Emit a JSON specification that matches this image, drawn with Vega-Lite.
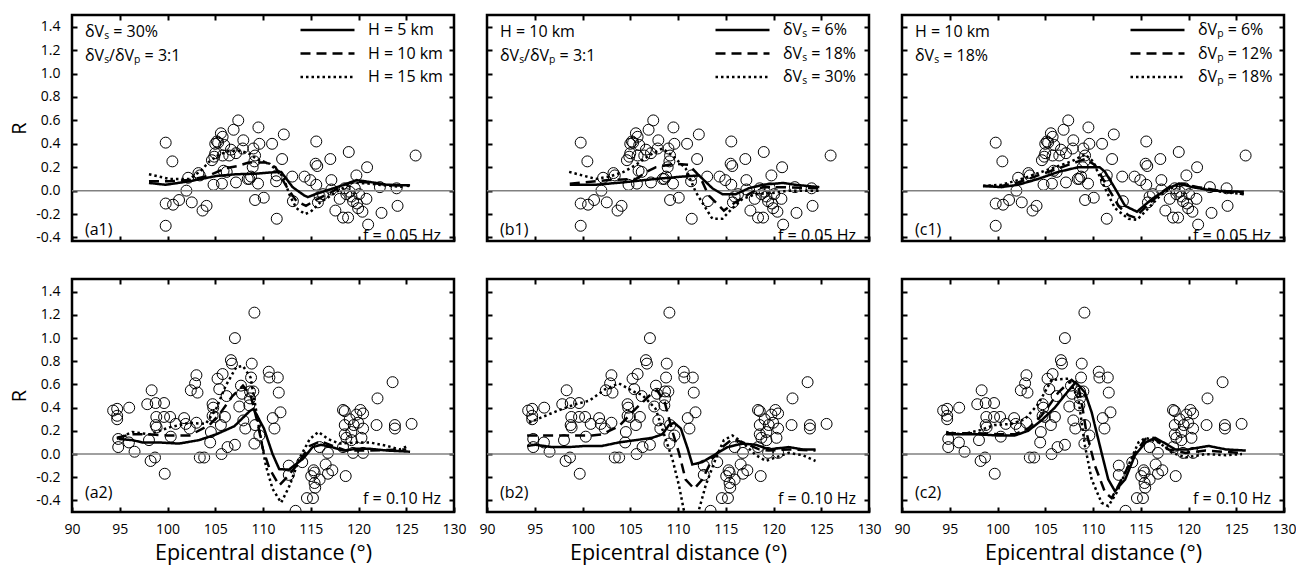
{
"$schema": "https://vega.github.io/schema/vega-lite/v6.json",
"padding": {"left": 8, "top": 12, "right": 0, "bottom": 0},
"background": "white",
"datasets": {
"pts1": [
{"d":99.81,"r":0.41},{"d":100.51,"r":0.25},{"d":99.81,"r":-0.30},{"d":99.81,"r":-0.11},{"d":100.58,"r":-0.12},{"d":101.21,"r":-0.08},{"d":101.98,"r":0.00},{"d":102.16,"r":0.11},{"d":102.54,"r":-0.10},{"d":103.24,"r":0.15},{"d":103.38,"r":0.13},{"d":103.67,"r":-0.17},{"d":104.09,"r":-0.13},{"d":104.82,"r":0.05},{"d":104.65,"r":0.26},{"d":105.00,"r":0.32},{"d":105.00,"r":0.40},{"d":105.17,"r":0.42},{"d":105.59,"r":0.49},{"d":105.77,"r":0.46},{"d":105.94,"r":0.39},{"d":105.77,"r":0.30},{"d":105.70,"r":0.06},{"d":105.87,"r":0.17},{"d":106.47,"r":0.30},{"d":106.64,"r":0.35},{"d":106.92,"r":0.52},{"d":107.41,"r":0.60},{"d":107.17,"r":0.32},{"d":107.87,"r":0.36},{"d":107.94,"r":0.43},{"d":108.57,"r":0.10},{"d":108.40,"r":0.10},{"d":108.92,"r":0.20},{"d":109.10,"r":0.25},{"d":109.17,"r":0.30},{"d":109.00,"r":0.36},{"d":109.48,"r":0.06},{"d":109.52,"r":0.54},{"d":109.62,"r":0.40},{"d":109.17,"r":-0.08},{"d":110.08,"r":-0.06},{"d":110.95,"r":0.40},{"d":112.18,"r":0.48},{"d":112.00,"r":0.27},{"d":111.44,"r":0.13},{"d":111.37,"r":0.08},{"d":111.44,"r":-0.24},{"d":113.06,"r":0.12},{"d":113.13,"r":-0.09},{"d":114.35,"r":0.12},{"d":114.95,"r":0.09},{"d":115.58,"r":0.42},{"d":115.51,"r":0.23},{"d":115.68,"r":0.21},{"d":115.58,"r":0.05},{"d":115.75,"r":-0.10},{"d":115.93,"r":-0.05},{"d":117.05,"r":0.27},{"d":117.16,"r":0.09},{"d":117.16,"r":0.01},{"d":117.58,"r":-0.17},{"d":118.38,"r":-0.23},{"d":118.91,"r":-0.23},{"d":118.98,"r":0.33},{"d":118.73,"r":-0.03},{"d":119.08,"r":-0.01},{"d":119.26,"r":-0.05},{"d":119.43,"r":-0.09},{"d":119.78,"r":0.13},{"d":119.85,"r":-0.11},{"d":119.96,"r":-0.15},{"d":120.41,"r":-0.18},{"d":120.83,"r":-0.07},{"d":120.90,"r":0.20},{"d":121.01,"r":-0.29},{"d":118.91,"r":-0.48},{"d":122.24,"r":0.03},{"d":122.41,"r":-0.19},{"d":123.99,"r":0.02},{"d":124.09,"r":-0.13},{"d":125.98,"r":0.30},{"d":107.17,"r":0.07},{"d":108.75,"r":0.12},{"d":118.03,"r":-0.07},{"d":118.56,"r":0.02},{"d":119.61,"r":0.02},{"d":120.06,"r":-0.03},{"d":116.28,"r":-0.03},{"d":105.3,"r":0.41},{"d":104.9,"r":0.29},{"d":106.2,"r":0.16}
],
"pts2": [
{"d":94.31,"r":0.375},{"d":94.73,"r":0.39},{"d":94.73,"r":0.33},{"d":94.73,"r":0.30},{"d":94.84,"r":0.13},{"d":94.84,"r":0.06},{"d":95.99,"r":0.40},{"d":95.96,"r":0.10},{"d":96.55,"r":0.02},{"d":97.88,"r":0.43},{"d":98.34,"r":0.55},{"d":98.23,"r":-0.06},{"d":98.69,"r":-0.03},{"d":98.76,"r":0.44},{"d":98.83,"r":0.32},{"d":98.76,"r":0.25},{"d":98.86,"r":0.23},{"d":98.06,"r":0.12},{"d":99.64,"r":0.44},{"d":99.71,"r":-0.17},{"d":99.64,"r":0.32},{"d":100.27,"r":0.32},{"d":100.34,"r":0.15},{"d":100.86,"r":0.26},{"d":101.74,"r":0.31},{"d":101.91,"r":0.26},{"d":102.33,"r":0.22},{"d":102.44,"r":0.55},{"d":102.89,"r":0.61},{"d":103.03,"r":0.68},{"d":103.14,"r":0.53},{"d":103.03,"r":0.27},{"d":103.38,"r":-0.03},{"d":103.84,"r":-0.03},{"d":104.47,"r":0.10},{"d":104.54,"r":0.19},{"d":104.72,"r":0.43},{"d":104.79,"r":0.40},{"d":104.72,"r":0.33},{"d":104.96,"r":0.32},{"d":105.24,"r":0.65},{"d":105.42,"r":0.56},{"d":105.77,"r":0.69},{"d":105.59,"r":0.25},{"d":105.66,"r":0.00},{"d":106.01,"r":0.32},{"d":106.19,"r":0.50},{"d":106.29,"r":0.06},{"d":106.64,"r":0.81},{"d":106.75,"r":0.78},{"d":107.06,"r":1.00},{"d":107.06,"r":0.08},{"d":107.52,"r":0.41},{"d":107.69,"r":0.59},{"d":107.80,"r":0.52},{"d":107.94,"r":0.29},{"d":108.15,"r":0.22},{"d":108.82,"r":0.78},{"d":108.75,"r":0.66},{"d":108.64,"r":0.54},{"d":108.64,"r":0.48},{"d":108.57,"r":0.42},{"d":108.99,"r":0.54},{"d":109.10,"r":1.22},{"d":109.10,"r":0.09},{"d":109.17,"r":0.25},{"d":109.62,"r":0.16},{"d":110.60,"r":0.71},{"d":110.67,"r":0.66},{"d":111.02,"r":0.31},{"d":111.20,"r":0.22},{"d":111.55,"r":0.66},{"d":111.65,"r":0.53},{"d":111.83,"r":0.36},{"d":112.70,"r":-0.10},{"d":112.70,"r":-0.18},{"d":113.41,"r":-0.49},{"d":114.11,"r":-0.07},{"d":114.60,"r":-0.38},{"d":115.23,"r":-0.38},{"d":115.05,"r":-0.19},{"d":115.30,"r":-0.14},{"d":115.40,"r":-0.16},{"d":115.40,"r":-0.25},{"d":115.47,"r":-0.29},{"d":115.93,"r":-0.22},{"d":115.93,"r":0.06},{"d":116.56,"r":-0.09},{"d":116.80,"r":-0.17},{"d":117.26,"r":-0.14},{"d":116.80,"r":0.01},{"d":118.38,"r":0.38},{"d":118.56,"r":0.37},{"d":118.56,"r":0.25},{"d":118.56,"r":0.17},{"d":118.66,"r":-0.19},{"d":119.08,"r":0.30},{"d":119.26,"r":0.19},{"d":119.43,"r":0.01},{"d":119.50,"r":0.25},{"d":119.78,"r":0.34},{"d":119.96,"r":0.27},{"d":120.20,"r":0.38},{"d":120.48,"r":0.35},{"d":120.48,"r":0.22},{"d":120.31,"r":0.14},{"d":120.48,"r":0.01},{"d":121.99,"r":0.48},{"d":121.89,"r":0.25},{"d":123.57,"r":0.62},{"d":123.81,"r":0.25},{"d":123.81,"r":0.22},{"d":125.56,"r":0.26},{"d":118.73,"r":0.14},{"d":118.38,"r":0.06},{"d":119.26,"r":0.12}
],
"curves": [
{"p":"a","s":"H = 5 km","d":98.06,"r":0.066},{"p":"a","s":"H = 5 km","d":99.8,"r":0.05},{"p":"a","s":"H = 5 km","d":102.3,"r":0.08},{"p":"a","s":"H = 5 km","d":105.1,"r":0.125},{"p":"a","s":"H = 5 km","d":107.2,"r":0.14},{"p":"a","s":"H = 5 km","d":109.3,"r":0.145},{"p":"a","s":"H = 5 km","d":110.7,"r":0.155},{"p":"a","s":"H = 5 km","d":111.9,"r":0.16},{"p":"a","s":"H = 5 km","d":113.1,"r":0.03},{"p":"a","s":"H = 5 km","d":114.3,"r":-0.04},{"p":"a","s":"H = 5 km","d":114.7,"r":-0.055},{"p":"a","s":"H = 5 km","d":115.5,"r":-0.03},{"p":"a","s":"H = 5 km","d":117,"r":0.01},{"p":"a","s":"H = 5 km","d":118.5,"r":0.05},{"p":"a","s":"H = 5 km","d":119.8,"r":0.09},{"p":"a","s":"H = 5 km","d":121.2,"r":0.074},{"p":"a","s":"H = 5 km","d":123,"r":0.05},{"p":"a","s":"H = 5 km","d":125.4,"r":0.045},
{"p":"a","s":"H = 10 km","d":98.06,"r":0.08},{"p":"a","s":"H = 10 km","d":100,"r":0.08},{"p":"a","s":"H = 10 km","d":102.3,"r":0.09},{"p":"a","s":"H = 10 km","d":104.4,"r":0.13},{"p":"a","s":"H = 10 km","d":106,"r":0.19},{"p":"a","s":"H = 10 km","d":107.3,"r":0.21},{"p":"a","s":"H = 10 km","d":108.5,"r":0.24},{"p":"a","s":"H = 10 km","d":110.3,"r":0.24},{"p":"a","s":"H = 10 km","d":111.3,"r":0.2},{"p":"a","s":"H = 10 km","d":112.5,"r":0.03},{"p":"a","s":"H = 10 km","d":113.5,"r":-0.09},{"p":"a","s":"H = 10 km","d":114.5,"r":-0.13},{"p":"a","s":"H = 10 km","d":115.5,"r":-0.08},{"p":"a","s":"H = 10 km","d":117,"r":-0.02},{"p":"a","s":"H = 10 km","d":118.5,"r":0.05},{"p":"a","s":"H = 10 km","d":119.5,"r":0.08},{"p":"a","s":"H = 10 km","d":121,"r":0.07},{"p":"a","s":"H = 10 km","d":123,"r":0.05},{"p":"a","s":"H = 10 km","d":125.3,"r":0.04},
{"p":"a","s":"H = 15 km","d":98.06,"r":0.14},{"p":"a","s":"H = 15 km","d":100.2,"r":0.10},{"p":"a","s":"H = 15 km","d":102.3,"r":0.10},{"p":"a","s":"H = 15 km","d":103.5,"r":0.17},{"p":"a","s":"H = 15 km","d":104.4,"r":0.25},{"p":"a","s":"H = 15 km","d":105.5,"r":0.31},{"p":"a","s":"H = 15 km","d":106.5,"r":0.34},{"p":"a","s":"H = 15 km","d":107.7,"r":0.34},{"p":"a","s":"H = 15 km","d":108.7,"r":0.31},{"p":"a","s":"H = 15 km","d":109.3,"r":0.27},{"p":"a","s":"H = 15 km","d":110.7,"r":0.23},{"p":"a","s":"H = 15 km","d":112.1,"r":0.12},{"p":"a","s":"H = 15 km","d":112.8,"r":-0.04},{"p":"a","s":"H = 15 km","d":113.5,"r":-0.15},{"p":"a","s":"H = 15 km","d":114.4,"r":-0.20},{"p":"a","s":"H = 15 km","d":115,"r":-0.18},{"p":"a","s":"H = 15 km","d":116,"r":-0.10},{"p":"a","s":"H = 15 km","d":117.7,"r":-0.01},{"p":"a","s":"H = 15 km","d":119.4,"r":0.07},{"p":"a","s":"H = 15 km","d":121,"r":0.06},{"p":"a","s":"H = 15 km","d":124.7,"r":0.03},
{"p":"b","s":"δVₛ = 6%","d":98.67,"r":0.05},{"p":"b","s":"δVₛ = 6%","d":101.36,"r":0.05},{"p":"b","s":"δVₛ = 6%","d":104.16,"r":0.07},{"p":"b","s":"δVₛ = 6%","d":107.66,"r":0.10},{"p":"b","s":"δVₛ = 6%","d":110.45,"r":0.12},{"p":"b","s":"δVₛ = 6%","d":112.2,"r":0.13},{"p":"b","s":"δVₛ = 6%","d":113.6,"r":0.02},{"p":"b","s":"δVₛ = 6%","d":114.65,"r":-0.03},{"p":"b","s":"δVₛ = 6%","d":116.05,"r":-0.03},{"p":"b","s":"δVₛ = 6%","d":117.4,"r":0.02},{"p":"b","s":"δVₛ = 6%","d":118.85,"r":0.05},{"p":"b","s":"δVₛ = 6%","d":121,"r":0.066},{"p":"b","s":"δVₛ = 6%","d":122.3,"r":0.05},{"p":"b","s":"δVₛ = 6%","d":124.8,"r":0.03},
{"p":"b","s":"δVₛ = 18%","d":98.67,"r":0.06},{"p":"b","s":"δVₛ = 18%","d":102.8,"r":0.09},{"p":"b","s":"δVₛ = 18%","d":105.6,"r":0.10},{"p":"b","s":"δVₛ = 18%","d":106.7,"r":0.16},{"p":"b","s":"δVₛ = 18%","d":107.7,"r":0.20},{"p":"b","s":"δVₛ = 18%","d":109.75,"r":0.23},{"p":"b","s":"δVₛ = 18%","d":111.15,"r":0.22},{"p":"b","s":"δVₛ = 18%","d":112.3,"r":0.12},{"p":"b","s":"δVₛ = 18%","d":113.2,"r":-0.04},{"p":"b","s":"δVₛ = 18%","d":113.95,"r":-0.10},{"p":"b","s":"δVₛ = 18%","d":114.8,"r":-0.17},{"p":"b","s":"δVₛ = 18%","d":116,"r":-0.10},{"p":"b","s":"δVₛ = 18%","d":117.4,"r":-0.03},{"p":"b","s":"δVₛ = 18%","d":118.85,"r":0.03},{"p":"b","s":"δVₛ = 18%","d":121,"r":0.03},{"p":"b","s":"δVₛ = 18%","d":124.8,"r":0.02},
{"p":"b","s":"δVₛ = 30%","d":98.6,"r":0.16},{"p":"b","s":"δVₛ = 30%","d":101.4,"r":0.10},{"p":"b","s":"δVₛ = 30%","d":102.8,"r":0.12},{"p":"b","s":"δVₛ = 30%","d":104.3,"r":0.16},{"p":"b","s":"δVₛ = 30%","d":105.6,"r":0.22},{"p":"b","s":"δVₛ = 30%","d":106.95,"r":0.30},{"p":"b","s":"δVₛ = 30%","d":108.36,"r":0.36},{"p":"b","s":"δVₛ = 30%","d":109.4,"r":0.30},{"p":"b","s":"δVₛ = 30%","d":110.8,"r":0.19},{"p":"b","s":"δVₛ = 30%","d":111.85,"r":-0.01},{"p":"b","s":"δVₛ = 30%","d":112.9,"r":-0.15},{"p":"b","s":"δVₛ = 30%","d":113.6,"r":-0.24},{"p":"b","s":"δVₛ = 30%","d":114.65,"r":-0.24},{"p":"b","s":"δVₛ = 30%","d":115.7,"r":-0.15},{"p":"b","s":"δVₛ = 30%","d":116.75,"r":-0.07},{"p":"b","s":"δVₛ = 30%","d":118.15,"r":-0.03},{"p":"b","s":"δVₛ = 30%","d":119.9,"r":-0.02},{"p":"b","s":"δVₛ = 30%","d":121.6,"r":0.0},{"p":"b","s":"δVₛ = 30%","d":124.8,"r":0.0},
{"p":"c","s":"δVₚ = 6%","d":98.48,"r":0.04},{"p":"c","s":"δVₚ = 6%","d":100.4,"r":0.03},{"p":"c","s":"δVₚ = 6%","d":102.15,"r":0.05},{"p":"c","s":"δVₚ = 6%","d":104.26,"r":0.10},{"p":"c","s":"δVₚ = 6%","d":106.36,"r":0.16},{"p":"c","s":"δVₚ = 6%","d":108.46,"r":0.20},{"p":"c","s":"δVₚ = 6%","d":110.7,"r":0.20},{"p":"c","s":"δVₚ = 6%","d":111.26,"r":0.16},{"p":"c","s":"δVₚ = 6%","d":112.3,"r":0.02},{"p":"c","s":"δVₚ = 6%","d":113.36,"r":-0.13},{"p":"c","s":"δVₚ = 6%","d":114.6,"r":-0.18},{"p":"c","s":"δVₚ = 6%","d":116.2,"r":-0.07},{"p":"c","s":"δVₚ = 6%","d":117.9,"r":0.02},{"p":"c","s":"δVₚ = 6%","d":119,"r":0.06},{"p":"c","s":"δVₚ = 6%","d":120.4,"r":0.03},{"p":"c","s":"δVₚ = 6%","d":122.5,"r":0.0},{"p":"c","s":"δVₚ = 6%","d":125.8,"r":-0.01},
{"p":"c","s":"δVₚ = 12%","d":98.48,"r":0.04},{"p":"c","s":"δVₚ = 12%","d":100.4,"r":0.04},{"p":"c","s":"δVₚ = 12%","d":102.15,"r":0.07},{"p":"c","s":"δVₚ = 12%","d":104.26,"r":0.13},{"p":"c","s":"δVₚ = 12%","d":106.36,"r":0.19},{"p":"c","s":"δVₚ = 12%","d":108.46,"r":0.25},{"p":"c","s":"δVₚ = 12%","d":109.16,"r":0.27},{"p":"c","s":"δVₚ = 12%","d":110.2,"r":0.22},{"p":"c","s":"δVₚ = 12%","d":111.6,"r":0.02},{"p":"c","s":"δVₚ = 12%","d":112.66,"r":-0.13},{"p":"c","s":"δVₚ = 12%","d":113.7,"r":-0.21},{"p":"c","s":"δVₚ = 12%","d":114.4,"r":-0.23},{"p":"c","s":"δVₚ = 12%","d":115.5,"r":-0.14},{"p":"c","s":"δVₚ = 12%","d":116.9,"r":-0.03},{"p":"c","s":"δVₚ = 12%","d":118.3,"r":0.05},{"p":"c","s":"δVₚ = 12%","d":119.3,"r":0.06},{"p":"c","s":"δVₚ = 12%","d":121,"r":0.03},{"p":"c","s":"δVₚ = 12%","d":123.2,"r":0.0},{"p":"c","s":"δVₚ = 12%","d":125.8,"r":-0.03},
{"p":"c","s":"δVₚ = 18%","d":98.48,"r":0.04},{"p":"c","s":"δVₚ = 18%","d":100.4,"r":0.05},{"p":"c","s":"δVₚ = 18%","d":102.15,"r":0.09},{"p":"c","s":"δVₚ = 18%","d":104.26,"r":0.15},{"p":"c","s":"δVₚ = 18%","d":105.66,"r":0.19},{"p":"c","s":"δVₚ = 18%","d":107.76,"r":0.25},{"p":"c","s":"δVₚ = 18%","d":109.16,"r":0.31},{"p":"c","s":"δVₚ = 18%","d":110.0,"r":0.25},{"p":"c","s":"δVₚ = 18%","d":111.26,"r":0.02},{"p":"c","s":"δVₚ = 18%","d":112.3,"r":-0.15},{"p":"c","s":"δVₚ = 18%","d":113.7,"r":-0.24},{"p":"c","s":"δVₚ = 18%","d":114.6,"r":-0.25},{"p":"c","s":"δVₚ = 18%","d":115.8,"r":-0.15},{"p":"c","s":"δVₚ = 18%","d":117.2,"r":-0.03},{"p":"c","s":"δVₚ = 18%","d":118.6,"r":0.04},{"p":"c","s":"δVₚ = 18%","d":119.7,"r":0.05},{"p":"c","s":"δVₚ = 18%","d":121.4,"r":0.02},{"p":"c","s":"δVₚ = 18%","d":123.5,"r":-0.01},{"p":"c","s":"δVₚ = 18%","d":125.8,"r":-0.03}
],
"curves2": [
{"p":"a","s":"H = 5 km","d":94.9,"r":0.13},{"p":"a","s":"H = 5 km","d":96.3,"r":0.12},{"p":"a","s":"H = 5 km","d":97.4,"r":0.10},{"p":"a","s":"H = 5 km","d":99.1,"r":0.10},{"p":"a","s":"H = 5 km","d":101.2,"r":0.09},{"p":"a","s":"H = 5 km","d":103.3,"r":0.12},{"p":"a","s":"H = 5 km","d":105.1,"r":0.17},{"p":"a","s":"H = 5 km","d":107.0,"r":0.24},{"p":"a","s":"H = 5 km","d":108.6,"r":0.37},{"p":"a","s":"H = 5 km","d":109.0,"r":0.39},{"p":"a","s":"H = 5 km","d":110.1,"r":0.22},{"p":"a","s":"H = 5 km","d":111.0,"r":0.0},{"p":"a","s":"H = 5 km","d":111.7,"r":-0.13},{"p":"a","s":"H = 5 km","d":112.7,"r":-0.135},{"p":"a","s":"H = 5 km","d":114.2,"r":-0.04},{"p":"a","s":"H = 5 km","d":115.2,"r":0.06},{"p":"a","s":"H = 5 km","d":116.1,"r":0.08},{"p":"a","s":"H = 5 km","d":117.2,"r":0.06},{"p":"a","s":"H = 5 km","d":118.4,"r":0.03},{"p":"a","s":"H = 5 km","d":119.8,"r":0.045},{"p":"a","s":"H = 5 km","d":121.2,"r":0.045},{"p":"a","s":"H = 5 km","d":123,"r":0.03},{"p":"a","s":"H = 5 km","d":125.4,"r":0.02},
{"p":"a","s":"H = 10 km","d":94.7,"r":0.14},{"p":"a","s":"H = 10 km","d":96.3,"r":0.17},{"p":"a","s":"H = 10 km","d":98,"r":0.17},{"p":"a","s":"H = 10 km","d":100,"r":0.16},{"p":"a","s":"H = 10 km","d":102.3,"r":0.16},{"p":"a","s":"H = 10 km","d":104.4,"r":0.25},{"p":"a","s":"H = 10 km","d":105.5,"r":0.35},{"p":"a","s":"H = 10 km","d":106.8,"r":0.50},{"p":"a","s":"H = 10 km","d":107.9,"r":0.59},{"p":"a","s":"H = 10 km","d":108.7,"r":0.51},{"p":"a","s":"H = 10 km","d":109.4,"r":0.28},{"p":"a","s":"H = 10 km","d":110,"r":0.04},{"p":"a","s":"H = 10 km","d":110.7,"r":-0.13},{"p":"a","s":"H = 10 km","d":111.7,"r":-0.27},{"p":"a","s":"H = 10 km","d":112.5,"r":-0.2},{"p":"a","s":"H = 10 km","d":113.5,"r":-0.10},{"p":"a","s":"H = 10 km","d":114.9,"r":0.07},{"p":"a","s":"H = 10 km","d":116,"r":0.11},{"p":"a","s":"H = 10 km","d":117.3,"r":0.07},{"p":"a","s":"H = 10 km","d":118.7,"r":0.03},{"p":"a","s":"H = 10 km","d":121.2,"r":0.03},{"p":"a","s":"H = 10 km","d":125,"r":0.04},
{"p":"a","s":"H = 15 km","d":94.7,"r":0.13},{"p":"a","s":"H = 15 km","d":96.3,"r":0.19},{"p":"a","s":"H = 15 km","d":98.1,"r":0.17},{"p":"a","s":"H = 15 km","d":100.2,"r":0.23},{"p":"a","s":"H = 15 km","d":102.3,"r":0.27},{"p":"a","s":"H = 15 km","d":104,"r":0.26},{"p":"a","s":"H = 15 km","d":105.1,"r":0.39},{"p":"a","s":"H = 15 km","d":106.1,"r":0.59},{"p":"a","s":"H = 15 km","d":107.2,"r":0.75},{"p":"a","s":"H = 15 km","d":107.9,"r":0.76},{"p":"a","s":"H = 15 km","d":108.7,"r":0.66},{"p":"a","s":"H = 15 km","d":109.6,"r":0.22},{"p":"a","s":"H = 15 km","d":110.3,"r":-0.10},{"p":"a","s":"H = 15 km","d":111,"r":-0.30},{"p":"a","s":"H = 15 km","d":111.9,"r":-0.42},{"p":"a","s":"H = 15 km","d":112.8,"r":-0.27},{"p":"a","s":"H = 15 km","d":113.8,"r":-0.04},{"p":"a","s":"H = 15 km","d":114.9,"r":0.13},{"p":"a","s":"H = 15 km","d":115.8,"r":0.19},{"p":"a","s":"H = 15 km","d":116.8,"r":0.13},{"p":"a","s":"H = 15 km","d":118,"r":0.09},{"p":"a","s":"H = 15 km","d":119.8,"r":0.10},{"p":"a","s":"H = 15 km","d":121.2,"r":0.10},{"p":"a","s":"H = 15 km","d":123,"r":0.07},{"p":"a","s":"H = 15 km","d":124.3,"r":0.04},{"p":"a","s":"H = 15 km","d":125.2,"r":0.07},
{"p":"b","s":"δVₛ = 6%","d":94.2,"r":0.07},{"p":"b","s":"δVₛ = 6%","d":95.07,"r":0.08},{"p":"b","s":"δVₛ = 6%","d":96.8,"r":0.06},{"p":"b","s":"δVₛ = 6%","d":98.57,"r":0.06},{"p":"b","s":"δVₛ = 6%","d":100.3,"r":0.07},{"p":"b","s":"δVₛ = 6%","d":102.06,"r":0.07},{"p":"b","s":"δVₛ = 6%","d":103.8,"r":0.10},{"p":"b","s":"δVₛ = 6%","d":105.56,"r":0.12},{"p":"b","s":"δVₛ = 6%","d":107.3,"r":0.14},{"p":"b","s":"δVₛ = 6%","d":108.36,"r":0.17},{"p":"b","s":"δVₛ = 6%","d":109.06,"r":0.25},{"p":"b","s":"δVₛ = 6%","d":109.6,"r":0.27},{"p":"b","s":"δVₛ = 6%","d":110.3,"r":0.22},{"p":"b","s":"δVₛ = 6%","d":111.0,"r":0.05},{"p":"b","s":"δVₛ = 6%","d":111.5,"r":-0.09},{"p":"b","s":"δVₛ = 6%","d":112.55,"r":-0.07},{"p":"b","s":"δVₛ = 6%","d":113.95,"r":0.0},{"p":"b","s":"δVₛ = 6%","d":115.2,"r":0.06},{"p":"b","s":"δVₛ = 6%","d":116.75,"r":0.09},{"p":"b","s":"δVₛ = 6%","d":118.15,"r":0.08},{"p":"b","s":"δVₛ = 6%","d":119.55,"r":0.04},{"p":"b","s":"δVₛ = 6%","d":121.6,"r":0.06},{"p":"b","s":"δVₛ = 6%","d":123.05,"r":0.04},{"p":"b","s":"δVₛ = 6%","d":124.4,"r":0.04},
{"p":"b","s":"δVₛ = 18%","d":94.2,"r":0.16},{"p":"b","s":"δVₛ = 18%","d":96.8,"r":0.16},{"p":"b","s":"δVₛ = 18%","d":99.27,"r":0.16},{"p":"b","s":"δVₛ = 18%","d":101.0,"r":0.16},{"p":"b","s":"δVₛ = 18%","d":102.06,"r":0.17},{"p":"b","s":"δVₛ = 18%","d":103.8,"r":0.24},{"p":"b","s":"δVₛ = 18%","d":105.56,"r":0.39},{"p":"b","s":"δVₛ = 18%","d":106.96,"r":0.50},{"p":"b","s":"δVₛ = 18%","d":107.8,"r":0.55},{"p":"b","s":"δVₛ = 18%","d":108.6,"r":0.45},{"p":"b","s":"δVₛ = 18%","d":109.4,"r":0.2},{"p":"b","s":"δVₛ = 18%","d":110.1,"r":0.01},{"p":"b","s":"δVₛ = 18%","d":110.8,"r":-0.22},{"p":"b","s":"δVₛ = 18%","d":111.7,"r":-0.30},{"p":"b","s":"δVₛ = 18%","d":112.55,"r":-0.22},{"p":"b","s":"δVₛ = 18%","d":113.6,"r":-0.04},{"p":"b","s":"δVₛ = 18%","d":114.65,"r":0.06},{"p":"b","s":"δVₛ = 18%","d":115.7,"r":0.13},{"p":"b","s":"δVₛ = 18%","d":117.1,"r":0.09},{"p":"b","s":"δVₛ = 18%","d":118.5,"r":0.04},{"p":"b","s":"δVₛ = 18%","d":119.5,"r":0.03},{"p":"b","s":"δVₛ = 18%","d":121.6,"r":0.04},{"p":"b","s":"δVₛ = 18%","d":124.4,"r":0.03},
{"p":"b","s":"δVₛ = 30%","d":94.4,"r":0.27},{"p":"b","s":"δVₛ = 30%","d":95.8,"r":0.32},{"p":"b","s":"δVₛ = 30%","d":97.9,"r":0.39},{"p":"b","s":"δVₛ = 30%","d":99.27,"r":0.43},{"p":"b","s":"δVₛ = 30%","d":100.7,"r":0.46},{"p":"b","s":"δVₛ = 30%","d":102.4,"r":0.56},{"p":"b","s":"δVₛ = 30%","d":103.8,"r":0.61},{"p":"b","s":"δVₛ = 30%","d":105.56,"r":0.53},{"p":"b","s":"δVₛ = 30%","d":106.26,"r":0.51},{"p":"b","s":"δVₛ = 30%","d":107.66,"r":0.39},{"p":"b","s":"δVₛ = 30%","d":108.7,"r":0.13},{"p":"b","s":"δVₛ = 30%","d":109.4,"r":-0.04},{"p":"b","s":"δVₛ = 30%","d":110.1,"r":-0.27},{"p":"b","s":"δVₛ = 30%","d":110.6,"r":-0.48},{"p":"b","s":"δVₛ = 30%","d":111.0,"r":-0.6},{"p":"b","s":"δVₛ = 30%","d":111.8,"r":-0.6},{"p":"b","s":"δVₛ = 30%","d":112.2,"r":-0.48},{"p":"b","s":"δVₛ = 30%","d":112.9,"r":-0.27},{"p":"b","s":"δVₛ = 30%","d":113.95,"r":-0.04},{"p":"b","s":"δVₛ = 30%","d":114.8,"r":0.12},{"p":"b","s":"δVₛ = 30%","d":115.7,"r":0.16},{"p":"b","s":"δVₛ = 30%","d":116.75,"r":0.10},{"p":"b","s":"δVₛ = 30%","d":118.15,"r":-0.01},{"p":"b","s":"δVₛ = 30%","d":119.2,"r":-0.06},{"p":"b","s":"δVₛ = 30%","d":120.2,"r":-0.03},{"p":"b","s":"δVₛ = 30%","d":121.6,"r":0.01},{"p":"b","s":"δVₛ = 30%","d":123.05,"r":-0.01},{"p":"b","s":"δVₛ = 30%","d":124.4,"r":-0.06},
{"p":"c","s":"δVₚ = 6%","d":94.62,"r":0.17},{"p":"c","s":"δVₚ = 6%","d":96.2,"r":0.17},{"p":"c","s":"δVₚ = 6%","d":97.95,"r":0.17},{"p":"c","s":"δVₚ = 6%","d":100.05,"r":0.16},{"p":"c","s":"δVₚ = 6%","d":101.8,"r":0.16},{"p":"c","s":"δVₚ = 6%","d":103.2,"r":0.20},{"p":"c","s":"δVₚ = 6%","d":104.6,"r":0.29},{"p":"c","s":"δVₚ = 6%","d":106.0,"r":0.40},{"p":"c","s":"δVₚ = 6%","d":107.06,"r":0.51},{"p":"c","s":"δVₚ = 6%","d":108.2,"r":0.62},{"p":"c","s":"δVₚ = 6%","d":109.16,"r":0.53},{"p":"c","s":"δVₚ = 6%","d":109.86,"r":0.36},{"p":"c","s":"δVₚ = 6%","d":110.9,"r":0.01},{"p":"c","s":"δVₚ = 6%","d":111.6,"r":-0.22},{"p":"c","s":"δVₚ = 6%","d":112.3,"r":-0.32},{"p":"c","s":"δVₚ = 6%","d":113.36,"r":-0.22},{"p":"c","s":"δVₚ = 6%","d":114.4,"r":-0.01},{"p":"c","s":"δVₚ = 6%","d":115.5,"r":0.10},{"p":"c","s":"δVₚ = 6%","d":116.5,"r":0.14},{"p":"c","s":"δVₚ = 6%","d":117.6,"r":0.09},{"p":"c","s":"δVₚ = 6%","d":118.6,"r":0.04},{"p":"c","s":"δVₚ = 6%","d":120.0,"r":0.04},{"p":"c","s":"δVₚ = 6%","d":122.1,"r":0.07},{"p":"c","s":"δVₚ = 6%","d":123.9,"r":0.04},{"p":"c","s":"δVₚ = 6%","d":126.0,"r":0.03},
{"p":"c","s":"δVₚ = 12%","d":94.62,"r":0.18},{"p":"c","s":"δVₚ = 12%","d":96.2,"r":0.18},{"p":"c","s":"δVₚ = 12%","d":97.95,"r":0.18},{"p":"c","s":"δVₚ = 12%","d":100.05,"r":0.17},{"p":"c","s":"δVₚ = 12%","d":101.8,"r":0.17},{"p":"c","s":"δVₚ = 12%","d":103.2,"r":0.22},{"p":"c","s":"δVₚ = 12%","d":104.6,"r":0.33},{"p":"c","s":"δVₚ = 12%","d":105.5,"r":0.43},{"p":"c","s":"δVₚ = 12%","d":106.36,"r":0.53},{"p":"c","s":"δVₚ = 12%","d":107.76,"r":0.64},{"p":"c","s":"δVₚ = 12%","d":108.46,"r":0.59},{"p":"c","s":"δVₚ = 12%","d":108.9,"r":0.4},{"p":"c","s":"δVₚ = 12%","d":109.3,"r":0.19},{"p":"c","s":"δVₚ = 12%","d":110.2,"r":-0.10},{"p":"c","s":"δVₚ = 12%","d":111.26,"r":-0.33},{"p":"c","s":"δVₚ = 12%","d":111.96,"r":-0.38},{"p":"c","s":"δVₚ = 12%","d":113,"r":-0.22},{"p":"c","s":"δVₚ = 12%","d":114.4,"r":0.01},{"p":"c","s":"δVₚ = 12%","d":115.5,"r":0.13},{"p":"c","s":"δVₚ = 12%","d":116.3,"r":0.14},{"p":"c","s":"δVₚ = 12%","d":117.9,"r":0.04},{"p":"c","s":"δVₚ = 12%","d":119.7,"r":0.01},{"p":"c","s":"δVₚ = 12%","d":121.8,"r":0.03},{"p":"c","s":"δVₚ = 12%","d":125.3,"r":0.01},
{"p":"c","s":"δVₚ = 18%","d":94.62,"r":0.19},{"p":"c","s":"δVₚ = 18%","d":96.2,"r":0.17},{"p":"c","s":"δVₚ = 18%","d":97.95,"r":0.20},{"p":"c","s":"δVₚ = 18%","d":99.7,"r":0.25},{"p":"c","s":"δVₚ = 18%","d":101.45,"r":0.26},{"p":"c","s":"δVₚ = 18%","d":102.85,"r":0.30},{"p":"c","s":"δVₚ = 18%","d":104.26,"r":0.43},{"p":"c","s":"δVₚ = 18%","d":105.66,"r":0.64},{"p":"c","s":"δVₚ = 18%","d":107.4,"r":0.65},{"p":"c","s":"δVₚ = 18%","d":108.46,"r":0.48},{"p":"c","s":"δVₚ = 18%","d":109.16,"r":0.07},{"p":"c","s":"δVₚ = 18%","d":109.86,"r":-0.22},{"p":"c","s":"δVₚ = 18%","d":110.9,"r":-0.42},{"p":"c","s":"δVₚ = 18%","d":111.6,"r":-0.45},{"p":"c","s":"δVₚ = 18%","d":112.5,"r":-0.33},{"p":"c","s":"δVₚ = 18%","d":113.7,"r":-0.10},{"p":"c","s":"δVₚ = 18%","d":114.76,"r":0.10},{"p":"c","s":"δVₚ = 18%","d":115.5,"r":0.14},{"p":"c","s":"δVₚ = 18%","d":116.9,"r":0.10},{"p":"c","s":"δVₚ = 18%","d":118.3,"r":0.01},{"p":"c","s":"δVₚ = 18%","d":119.7,"r":-0.03},{"p":"c","s":"δVₚ = 18%","d":121.8,"r":0.0},{"p":"c","s":"δVₚ = 18%","d":123.9,"r":-0.01},{"p":"c","s":"δVₚ = 18%","d":125.6,"r":0.0}
],
"notes": [
{"p":"a1","tl":"δVₛ = 30%\nδVₛ/δVₚ = 3:1","tag":"(a1)","f":"f = 0.05 Hz"},
{"p":"b1","tl":"H = 10 km\nδVₛ/δVₚ = 3:1","tag":"(b1)","f":"f = 0.05 Hz"},
{"p":"c1","tl":"H = 10 km\nδVₛ = 18%","tag":"(c1)","f":"f = 0.05 Hz"},
{"p":"a2","tl":"","tag":"(a2)","f":"f = 0.10 Hz"},
{"p":"b2","tl":"","tag":"(b2)","f":"f = 0.10 Hz"},
{"p":"c2","tl":"","tag":"(c2)","f":"f = 0.10 Hz"}
]
},
"vconcat": [
{"hconcat": [
{"width":382,"height":226,"layer":[
{"data":{"name":"pts1"},"mark":{"type":"point","shape":"circle","filled":false,"stroke":"black","strokeWidth":1,"size":120,"opacity":1,"clip":true},
"encoding":{"x":{"field":"d","type":"quantitative","scale":{"domain":[90,130],"nice":false,"zero":false},"axis":{"orient":"bottom","values":[90,95,100,105,110,115,120,125,130],"labels":false,"title":null}},
"y":{"field":"r","type":"quantitative","scale":{"domain":[-0.43,1.5],"nice":false,"zero":false},"axis":{"orient":"left","values":[-0.4,-0.2,0,0.2,0.4,0.6,0.8,1,1.2,1.4],"labelExpr":"replace(format(datum.value,'.1f'),'−','-')","title":"R","titleFontSize":20,"titlePadding":6}}}},
{"data":{"values":[{}]},"mark":{"type":"rule","stroke":"#808080","strokeWidth":1.5},"encoding":{"y":{"datum":0,"type":"quantitative","axis":null}}},
{"data":{"name":"curves"},"transform":[{"filter":"datum.p=='a'"}],"mark":{"type":"line","stroke":"black","strokeWidth":2.5,"clip":true},
"encoding":{"x":{"field":"d","type":"quantitative","axis":{"orient":"top","values":[95,100,105,110,115,120,125],"labels":false,"title":null}},
"y":{"field":"r","type":"quantitative","axis":{"orient":"right","values":[-0.4,-0.2,0,0.2,0.4,0.6,0.8,1,1.2,1.4],"labels":false,"title":null}},
"strokeDash":{"field":"s","type":"nominal","scale":{"domain":["H = 5 km","H = 10 km","H = 15 km"],"range":[[1,0],[10,6],[2.5,3]]},
"legend":{"orient":"none","legendX":227,"legendY":6,"title":null,"symbolType":"stroke","symbolSize":2916,"symbolStrokeWidth":2.5,"symbolStrokeColor":"black","clipHeight":18,"rowPadding":5.5,"labelOffset":12,"labelFontSize":16,"labelFont":"Open Sans","labelColor":"black","padding":0,"symbolOffset":0}}}},
{"data":{"name":"notes"},"transform":[{"filter":"datum.p=='a1'"}],"mark":{"type":"text","align":"left","baseline":"alphabetic","dx":13,"dy":22,"lineBreak":"\n","lineHeight":23.5,"fontSize":16},"encoding":{"x":{"datum":90,"type":"quantitative","axis":null},"y":{"datum":1.5,"type":"quantitative","axis":null},"text":{"field":"tl"}}},
{"data":{"name":"notes"},"transform":[{"filter":"datum.p=='a1'"}],"mark":{"type":"text","align":"left","baseline":"alphabetic","dx":13,"fontSize":16},"encoding":{"x":{"datum":90,"type":"quantitative","axis":null},"y":{"datum":-0.38,"type":"quantitative","axis":null},"text":{"field":"tag"}}},
{"data":{"name":"notes"},"transform":[{"filter":"datum.p=='a1'"}],"mark":{"type":"text","align":"right","baseline":"alphabetic","dx":-13,"fontSize":16},"encoding":{"x":{"datum":130,"type":"quantitative","axis":null},"y":{"datum":-0.43,"type":"quantitative","axis":null},"text":{"field":"f"}}}
],"resolve":{"axis":{"x":"independent","y":"independent"}}},
{"width":382,"height":226,"layer":[
{"data":{"name":"pts1"},"mark":{"type":"point","shape":"circle","filled":false,"stroke":"black","strokeWidth":1,"size":120,"opacity":1,"clip":true},
"encoding":{"x":{"field":"d","type":"quantitative","scale":{"domain":[90,130],"nice":false,"zero":false},"axis":{"orient":"bottom","values":[90,95,100,105,110,115,120,125,130],"labels":false,"title":null}},
"y":{"field":"r","type":"quantitative","scale":{"domain":[-0.43,1.5],"nice":false,"zero":false},"axis":{"orient":"left","values":[-0.4,-0.2,0,0.2,0.4,0.6,0.8,1,1.2,1.4],"labels":false,"title":null}}}},
{"data":{"values":[{}]},"mark":{"type":"rule","stroke":"#808080","strokeWidth":1.5},"encoding":{"y":{"datum":0,"type":"quantitative","axis":null}}},
{"data":{"name":"curves"},"transform":[{"filter":"datum.p=='b'"}],"mark":{"type":"line","stroke":"black","strokeWidth":2.5,"clip":true},
"encoding":{"x":{"field":"d","type":"quantitative","axis":{"orient":"top","values":[95,100,105,110,115,120,125],"labels":false,"title":null}},
"y":{"field":"r","type":"quantitative","axis":{"orient":"right","values":[-0.4,-0.2,0,0.2,0.4,0.6,0.8,1,1.2,1.4],"labels":false,"title":null}},
"strokeDash":{"field":"s","type":"nominal","scale":{"domain":["δVₛ = 6%","δVₛ = 18%","δVₛ = 30%"],"range":[[1,0],[10,6],[2.5,3]]},
"legend":{"orient":"none","legendX":227,"legendY":6,"title":null,"symbolType":"stroke","symbolSize":2916,"symbolStrokeWidth":2.5,"symbolStrokeColor":"black","clipHeight":18,"rowPadding":5.5,"labelOffset":12,"labelFontSize":16,"labelFont":"Open Sans","labelColor":"black","padding":0,"symbolOffset":0}}}},
{"data":{"name":"notes"},"transform":[{"filter":"datum.p=='b1'"}],"mark":{"type":"text","align":"left","baseline":"alphabetic","dx":13,"dy":22,"lineBreak":"\n","lineHeight":23.5,"fontSize":16},"encoding":{"x":{"datum":90,"type":"quantitative","axis":null},"y":{"datum":1.5,"type":"quantitative","axis":null},"text":{"field":"tl"}}},
{"data":{"name":"notes"},"transform":[{"filter":"datum.p=='b1'"}],"mark":{"type":"text","align":"left","baseline":"alphabetic","dx":13,"fontSize":16},"encoding":{"x":{"datum":90,"type":"quantitative","axis":null},"y":{"datum":-0.38,"type":"quantitative","axis":null},"text":{"field":"tag"}}},
{"data":{"name":"notes"},"transform":[{"filter":"datum.p=='b1'"}],"mark":{"type":"text","align":"right","baseline":"alphabetic","dx":-13,"fontSize":16},"encoding":{"x":{"datum":130,"type":"quantitative","axis":null},"y":{"datum":-0.43,"type":"quantitative","axis":null},"text":{"field":"f"}}}
],"resolve":{"axis":{"x":"independent","y":"independent"}}},
{"width":382,"height":226,"layer":[
{"data":{"name":"pts1"},"mark":{"type":"point","shape":"circle","filled":false,"stroke":"black","strokeWidth":1,"size":120,"opacity":1,"clip":true},
"encoding":{"x":{"field":"d","type":"quantitative","scale":{"domain":[90,130],"nice":false,"zero":false},"axis":{"orient":"bottom","values":[90,95,100,105,110,115,120,125,130],"labels":false,"title":null}},
"y":{"field":"r","type":"quantitative","scale":{"domain":[-0.43,1.5],"nice":false,"zero":false},"axis":{"orient":"left","values":[-0.4,-0.2,0,0.2,0.4,0.6,0.8,1,1.2,1.4],"labels":false,"title":null}}}},
{"data":{"values":[{}]},"mark":{"type":"rule","stroke":"#808080","strokeWidth":1.5},"encoding":{"y":{"datum":0,"type":"quantitative","axis":null}}},
{"data":{"name":"curves"},"transform":[{"filter":"datum.p=='c'"}],"mark":{"type":"line","stroke":"black","strokeWidth":2.5,"clip":true},
"encoding":{"x":{"field":"d","type":"quantitative","axis":{"orient":"top","values":[95,100,105,110,115,120,125],"labels":false,"title":null}},
"y":{"field":"r","type":"quantitative","axis":{"orient":"right","values":[-0.4,-0.2,0,0.2,0.4,0.6,0.8,1,1.2,1.4],"labels":false,"title":null}},
"strokeDash":{"field":"s","type":"nominal","scale":{"domain":["δVₚ = 6%","δVₚ = 12%","δVₚ = 18%"],"range":[[1,0],[10,6],[2.5,3]]},
"legend":{"orient":"none","legendX":227,"legendY":6,"title":null,"symbolType":"stroke","symbolSize":2916,"symbolStrokeWidth":2.5,"symbolStrokeColor":"black","clipHeight":18,"rowPadding":5.5,"labelOffset":12,"labelFontSize":16,"labelFont":"Open Sans","labelColor":"black","padding":0,"symbolOffset":0}}}},
{"data":{"name":"notes"},"transform":[{"filter":"datum.p=='c1'"}],"mark":{"type":"text","align":"left","baseline":"alphabetic","dx":13,"dy":22,"lineBreak":"\n","lineHeight":23.5,"fontSize":16},"encoding":{"x":{"datum":90,"type":"quantitative","axis":null},"y":{"datum":1.5,"type":"quantitative","axis":null},"text":{"field":"tl"}}},
{"data":{"name":"notes"},"transform":[{"filter":"datum.p=='c1'"}],"mark":{"type":"text","align":"left","baseline":"alphabetic","dx":13,"fontSize":16},"encoding":{"x":{"datum":90,"type":"quantitative","axis":null},"y":{"datum":-0.38,"type":"quantitative","axis":null},"text":{"field":"tag"}}},
{"data":{"name":"notes"},"transform":[{"filter":"datum.p=='c1'"}],"mark":{"type":"text","align":"right","baseline":"alphabetic","dx":-13,"fontSize":16},"encoding":{"x":{"datum":130,"type":"quantitative","axis":null},"y":{"datum":-0.43,"type":"quantitative","axis":null},"text":{"field":"f"}}}
],"resolve":{"axis":{"x":"independent","y":"independent"}}}
],"spacing":33,"bounds":"flush","resolve":{"scale":{"strokeDash":"independent"},"legend":{"strokeDash":"independent"}}},
{"hconcat": [
{"width":382,"height":233,"layer":[
{"data":{"name":"pts2"},"mark":{"type":"point","shape":"circle","filled":false,"stroke":"black","strokeWidth":1,"size":120,"opacity":1,"clip":true},
"encoding":{"x":{"field":"d","type":"quantitative","scale":{"domain":[90,130],"nice":false,"zero":false},"axis":{"orient":"bottom","values":[90,95,100,105,110,115,120,125,130],"labelPadding":15,"title":"Epicentral distance (°)","titleFontSize":21.5,"titlePadding":6}},
"y":{"field":"r","type":"quantitative","scale":{"domain":[-0.5,1.51],"nice":false,"zero":false},"axis":{"orient":"left","values":[-0.4,-0.2,0,0.2,0.4,0.6,0.8,1,1.2,1.4],"labelExpr":"replace(format(datum.value,'.1f'),'−','-')","title":"R","titleFontSize":20,"titlePadding":6}}}},
{"data":{"values":[{}]},"mark":{"type":"rule","stroke":"#808080","strokeWidth":1.5},"encoding":{"y":{"datum":0,"type":"quantitative","axis":null}}},
{"data":{"name":"curves2"},"transform":[{"filter":"datum.p=='a'"}],"mark":{"type":"line","stroke":"black","strokeWidth":2.5,"clip":true},
"encoding":{"x":{"field":"d","type":"quantitative","axis":{"orient":"top","values":[95,100,105,110,115,120,125],"labels":false,"title":null}},
"y":{"field":"r","type":"quantitative","axis":{"orient":"right","values":[-0.4,-0.2,0,0.2,0.4,0.6,0.8,1,1.2,1.4],"labels":false,"title":null}},
"strokeDash":{"field":"s","type":"nominal","scale":{"domain":["H = 5 km","H = 10 km","H = 15 km"],"range":[[1,0],[10,6],[2.5,3]]},"legend":null}}},
{"data":{"name":"notes"},"transform":[{"filter":"datum.p=='a2'"}],"mark":{"type":"text","align":"left","baseline":"alphabetic","dx":13,"fontSize":16},"encoding":{"x":{"datum":90,"type":"quantitative","axis":null},"y":{"datum":-0.38,"type":"quantitative","axis":null},"text":{"field":"tag"}}},
{"data":{"name":"notes"},"transform":[{"filter":"datum.p=='a2'"}],"mark":{"type":"text","align":"right","baseline":"alphabetic","dx":-13,"fontSize":16},"encoding":{"x":{"datum":130,"type":"quantitative","axis":null},"y":{"datum":-0.43,"type":"quantitative","axis":null},"text":{"field":"f"}}}
],"resolve":{"axis":{"x":"independent","y":"independent"}}},
{"width":382,"height":233,"layer":[
{"data":{"name":"pts2"},"mark":{"type":"point","shape":"circle","filled":false,"stroke":"black","strokeWidth":1,"size":120,"opacity":1,"clip":true},
"encoding":{"x":{"field":"d","type":"quantitative","scale":{"domain":[90,130],"nice":false,"zero":false},"axis":{"orient":"bottom","values":[90,95,100,105,110,115,120,125,130],"labelPadding":15,"title":"Epicentral distance (°)","titleFontSize":21.5,"titlePadding":6}},
"y":{"field":"r","type":"quantitative","scale":{"domain":[-0.5,1.51],"nice":false,"zero":false},"axis":{"orient":"left","values":[-0.4,-0.2,0,0.2,0.4,0.6,0.8,1,1.2,1.4],"labels":false,"title":null}}}},
{"data":{"values":[{}]},"mark":{"type":"rule","stroke":"#808080","strokeWidth":1.5},"encoding":{"y":{"datum":0,"type":"quantitative","axis":null}}},
{"data":{"name":"curves2"},"transform":[{"filter":"datum.p=='b'"}],"mark":{"type":"line","stroke":"black","strokeWidth":2.5,"clip":true},
"encoding":{"x":{"field":"d","type":"quantitative","axis":{"orient":"top","values":[95,100,105,110,115,120,125],"labels":false,"title":null}},
"y":{"field":"r","type":"quantitative","axis":{"orient":"right","values":[-0.4,-0.2,0,0.2,0.4,0.6,0.8,1,1.2,1.4],"labels":false,"title":null}},
"strokeDash":{"field":"s","type":"nominal","scale":{"domain":["δVₛ = 6%","δVₛ = 18%","δVₛ = 30%"],"range":[[1,0],[10,6],[2.5,3]]},"legend":null}}},
{"data":{"name":"notes"},"transform":[{"filter":"datum.p=='b2'"}],"mark":{"type":"text","align":"left","baseline":"alphabetic","dx":13,"fontSize":16},"encoding":{"x":{"datum":90,"type":"quantitative","axis":null},"y":{"datum":-0.38,"type":"quantitative","axis":null},"text":{"field":"tag"}}},
{"data":{"name":"notes"},"transform":[{"filter":"datum.p=='b2'"}],"mark":{"type":"text","align":"right","baseline":"alphabetic","dx":-13,"fontSize":16},"encoding":{"x":{"datum":130,"type":"quantitative","axis":null},"y":{"datum":-0.43,"type":"quantitative","axis":null},"text":{"field":"f"}}}
],"resolve":{"axis":{"x":"independent","y":"independent"}}},
{"width":382,"height":233,"layer":[
{"data":{"name":"pts2"},"mark":{"type":"point","shape":"circle","filled":false,"stroke":"black","strokeWidth":1,"size":120,"opacity":1,"clip":true},
"encoding":{"x":{"field":"d","type":"quantitative","scale":{"domain":[90,130],"nice":false,"zero":false},"axis":{"orient":"bottom","values":[90,95,100,105,110,115,120,125,130],"labelPadding":15,"title":"Epicentral distance (°)","titleFontSize":21.5,"titlePadding":6}},
"y":{"field":"r","type":"quantitative","scale":{"domain":[-0.5,1.51],"nice":false,"zero":false},"axis":{"orient":"left","values":[-0.4,-0.2,0,0.2,0.4,0.6,0.8,1,1.2,1.4],"labels":false,"title":null}}}},
{"data":{"values":[{}]},"mark":{"type":"rule","stroke":"#808080","strokeWidth":1.5},"encoding":{"y":{"datum":0,"type":"quantitative","axis":null}}},
{"data":{"name":"curves2"},"transform":[{"filter":"datum.p=='c'"}],"mark":{"type":"line","stroke":"black","strokeWidth":2.5,"clip":true},
"encoding":{"x":{"field":"d","type":"quantitative","axis":{"orient":"top","values":[95,100,105,110,115,120,125],"labels":false,"title":null}},
"y":{"field":"r","type":"quantitative","axis":{"orient":"right","values":[-0.4,-0.2,0,0.2,0.4,0.6,0.8,1,1.2,1.4],"labels":false,"title":null}},
"strokeDash":{"field":"s","type":"nominal","scale":{"domain":["δVₚ = 6%","δVₚ = 12%","δVₚ = 18%"],"range":[[1,0],[10,6],[2.5,3]]},"legend":null}}},
{"data":{"name":"notes"},"transform":[{"filter":"datum.p=='c2'"}],"mark":{"type":"text","align":"left","baseline":"alphabetic","dx":13,"fontSize":16},"encoding":{"x":{"datum":90,"type":"quantitative","axis":null},"y":{"datum":-0.38,"type":"quantitative","axis":null},"text":{"field":"tag"}}},
{"data":{"name":"notes"},"transform":[{"filter":"datum.p=='c2'"}],"mark":{"type":"text","align":"right","baseline":"alphabetic","dx":-13,"fontSize":16},"encoding":{"x":{"datum":130,"type":"quantitative","axis":null},"y":{"datum":-0.43,"type":"quantitative","axis":null},"text":{"field":"f"}}}
],"resolve":{"axis":{"x":"independent","y":"independent"}}}
],"spacing":33,"bounds":"flush","resolve":{"scale":{"strokeDash":"independent"},"legend":{"strokeDash":"independent"}}}
],
"spacing": 264,
"bounds": "flush",
"resolve": {"scale": {"strokeDash": "independent"}, "legend": {"strokeDash": "independent"}},
"config": {
"font": "Open Sans",
"view": {"stroke": "black", "strokeWidth": 2.5},
"axis": {"tickSize": -5, "tickWidth": 2, "tickColor": "black", "domain": false, "grid": false, "labelColor": "black", "titleColor": "black", "labelFont": "Open Sans", "titleFont": "Open Sans", "labelFontSize": 14, "titleFontWeight": "normal", "minExtent": 0, "labelFlush": false, "labelPadding": 17, "labelOverlap": false},
"text": {"font": "Open Sans", "color": "black"}
}
}
